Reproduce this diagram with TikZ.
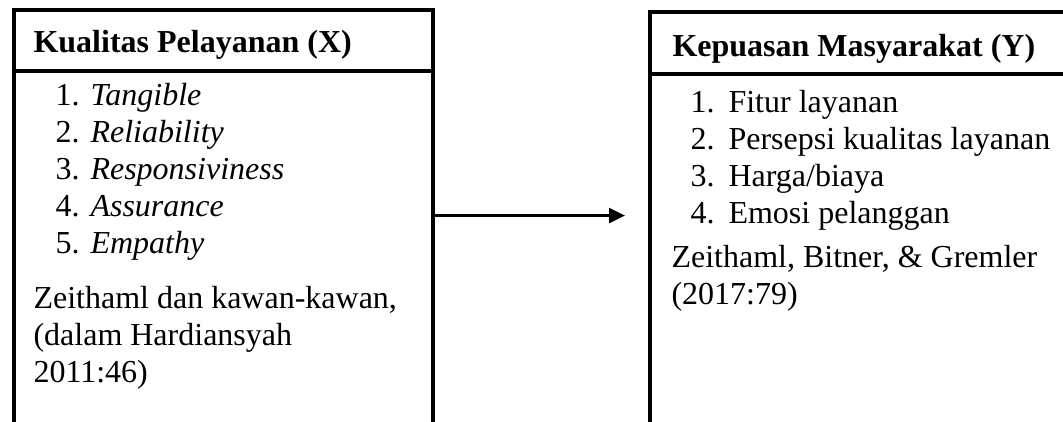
\documentclass[tikz,border=0pt]{standalone}
\usepackage{fontspec}
\setmainfont{Liberation Serif}
\usetikzlibrary{arrows.meta,calc}
\tikzset{
  frame/.style={line width=1.5pt, line join=miter},
  region/.style={draw=none, inner sep=0pt, anchor=north west},
  txt/.style={anchor=base west, inner sep=0pt, font=\fontsize{12}{13.8}\selectfont},
  head/.style={txt, font=\fontsize{12}{13.8}\selectfont\bfseries},
  flow/.style={line width=1pt, -{Triangle[length=6pt,width=5.6pt]}},
}
\begin{document}
\begin{tikzpicture}[x=0.375pt,y=-0.375pt]
\useasboundingbox (0,0) rectangle (1063,421);
\clip (0,0) rectangle (1063,421);

% the two variable boxes (open at the bottom)
\node[region, minimum width=156.75pt, minimum height=153pt] (xbox) at (14,10) {};
\node[region, minimum width=165pt, minimum height=153pt] (ybox) at (650,12) {};

\draw[frame] ($(xbox.south west)+(0,20)$) -- (xbox.north west) -- (xbox.north east) -- ($(xbox.south east)+(0,20)$);
\draw[frame] ($(xbox.north west)+(0,61)$) -- ($(xbox.north east)+(0,61)$);

\draw[frame] ($(ybox.south west)+(0,20)$) -- (ybox.north west) -- (ybox.north east) -- ($(ybox.south east)+(0,20)$);
\draw[frame] ($(ybox.north west)+(0,62)$) -- ($(ybox.north east)+(0,62)$);

% influence of X on Y
\draw[flow] ($(xbox.east)+(0,1)$) -- ($(ybox.west)+(-25,-1)$);

% service quality (X)
\node[head] (xtitle) at (33,52) {Kualitas Pelayanan (X)};
\foreach \n/\t [count=\i from 0] in {1/Tangible,2/Reliability,3/Responsiviness,4/Assurance,5/Empathy}{
  \node[txt] (xnum\n) at (55,105+37*\i) {\n.};
  \node[txt] (xitem\n) at (90,105+37*\i) {\textit{\t}};
}
\node[txt] (xsrc1) at (33,308) {Zeithaml dan kawan-kawan,};
\node[txt] (xsrc2) at (33,345) {(dalam Hardiansyah};
\node[txt] (xsrc3) at (33,382) {2011:46)};

% public satisfaction (Y)
\node[head] (ytitle) at (672,56) {Kepuasan Masyarakat (Y)};
\foreach \n/\t [count=\i from 0] in {1/{Fitur layanan},2/{Persepsi kualitas layanan},3/{Harga/biaya},4/{Emosi pelanggan}}{
  \node[txt] (ynum\n) at (690,112+37*\i) {\n.};
  \node[txt] (yitem\n) at (728,112+37*\i) {\t};
}
\node[txt] (ysrc1) at (671,267) {Zeithaml, Bitner, \& Gremler};
\node[txt] (ysrc2) at (671,304) {(2017:79)};
\end{tikzpicture}
\end{document}
